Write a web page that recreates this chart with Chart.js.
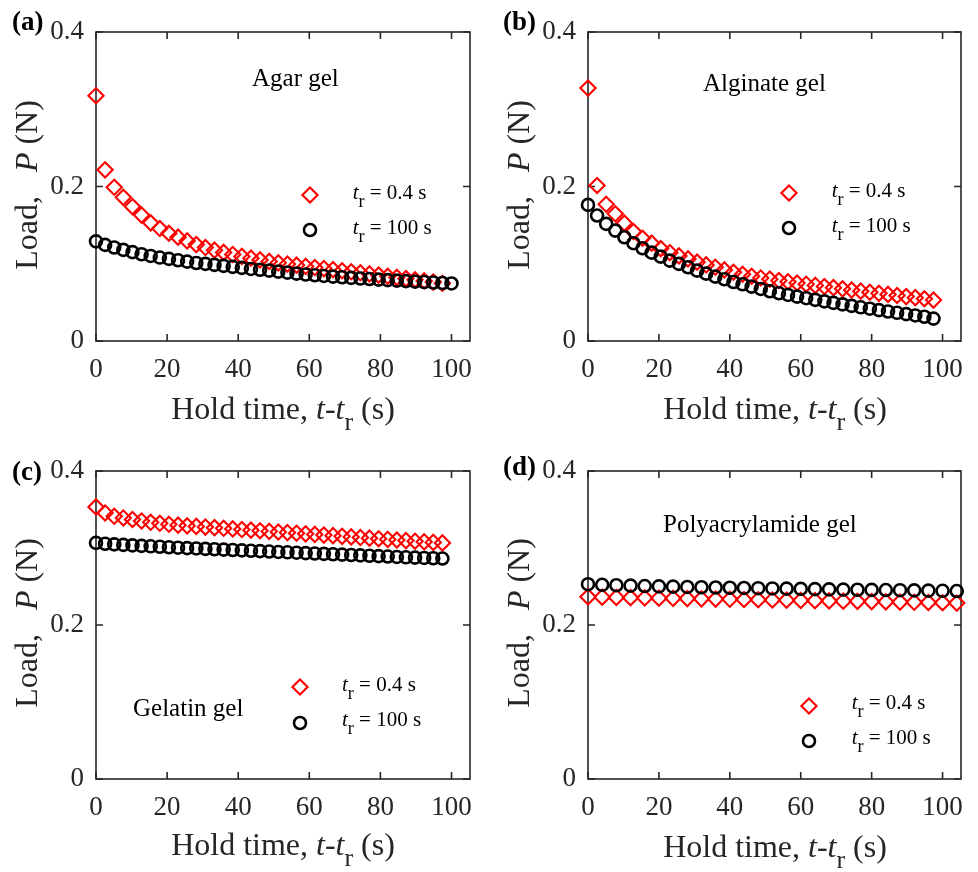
<!DOCTYPE html>
<html><head><meta charset="utf-8">
<script src="https://cdn.jsdelivr.net/npm/chart.js@4.4.1/dist/chart.umd.min.js"></script>
<style>
html,body{margin:0;padding:0;background:#fff;overflow:hidden}
#fig{position:relative;width:978px;height:872px;font-family:"Liberation Serif","Times New Roman",serif;color:#000}
#fig canvas{position:absolute}
.t{position:absolute;white-space:nowrap;line-height:1}
.mk{position:absolute;width:24px;height:24px}
.sb{position:relative;top:11px;font-size:26px}
.ls{position:relative;top:8px;font-size:18px}
</style></head><body><div id="fig"></div>
<script>
// ---------------- data ----------------
const holdTime40 = [0, 2.56, 5.13, 7.69, 10.26, 12.82, 15.38, 17.95, 20.51, 23.08, 25.64, 28.21, 30.77, 33.33, 35.90, 38.46, 41.03, 43.59, 46.15, 48.72, 51.28, 53.85, 56.41, 58.97, 61.54, 64.10, 66.67, 69.23, 71.79, 74.36, 76.92, 79.49, 82.05, 84.62, 87.18, 89.74, 92.31, 94.87, 97.44, 100];
const holdTime39 = [0, 2.56, 5.13, 7.69, 10.26, 12.82, 15.38, 17.95, 20.51, 23.08, 25.64, 28.21, 30.77, 33.33, 35.90, 38.46, 41.03, 43.59, 46.15, 48.72, 51.28, 53.85, 56.41, 58.97, 61.54, 64.10, 66.67, 69.23, 71.79, 74.36, 76.92, 79.49, 82.05, 84.62, 87.18, 89.74, 92.31, 94.87, 97.44];
const holdTime27 = [0, 4, 8, 12, 16, 20, 24, 28, 32, 36, 40, 44, 48, 52, 56, 60, 64, 68, 72, 76, 80, 84, 88, 92, 96, 100, 104];

const agarFast = [0.3175, 0.2216, 0.199, 0.186, 0.174, 0.163, 0.153, 0.1456, 0.1395, 0.1344, 0.1296, 0.1248, 0.1210, 0.1176, 0.1147, 0.1120, 0.1095, 0.1072, 0.1050, 0.1030, 0.1012, 0.0996, 0.0982, 0.0966, 0.0951, 0.0937, 0.0923, 0.0909, 0.0896, 0.0883, 0.0868, 0.0853, 0.0838, 0.0823, 0.0808, 0.0793, 0.0778, 0.0763, 0.0748];
const agarSlow = [0.129, 0.1244, 0.121, 0.118, 0.115, 0.1123, 0.1101, 0.108, 0.1063, 0.1045, 0.1028, 0.101, 0.0998, 0.0985, 0.0972, 0.0959, 0.0946, 0.0933, 0.0922, 0.0911, 0.0898, 0.0885, 0.0872, 0.0861, 0.0851, 0.0842, 0.0833, 0.0825, 0.0817, 0.0809, 0.0802, 0.0795, 0.0788, 0.0781, 0.0775, 0.0769, 0.0763, 0.0757, 0.0751, 0.0745];

const alginateFast = [0.3274, 0.2013, 0.177, 0.1646, 0.1525, 0.1417, 0.133, 0.1266, 0.1196, 0.1144, 0.1101, 0.1063, 0.102, 0.0985, 0.0955, 0.092, 0.089, 0.0864, 0.0838, 0.0816, 0.0800, 0.0783, 0.0767, 0.0751, 0.0735, 0.0720, 0.0705, 0.0690, 0.0675, 0.0660, 0.0645, 0.0631, 0.0617, 0.0603, 0.0589, 0.0575, 0.0561, 0.0547, 0.0530];
const alginateSlow = [0.1762, 0.1624, 0.1516, 0.1429, 0.1343, 0.1266, 0.1201, 0.1144, 0.1092, 0.1041, 0.0998, 0.0955, 0.0911, 0.0872, 0.0833, 0.0799, 0.0764, 0.0735, 0.0704, 0.0674, 0.0644, 0.0618, 0.0596, 0.0575, 0.0554, 0.0533, 0.0513, 0.0493, 0.0474, 0.0455, 0.0436, 0.0418, 0.0400, 0.0382, 0.0365, 0.0348, 0.0331, 0.0314, 0.0290];

const gelatinFast = [0.3533, 0.3455, 0.3412, 0.3390, 0.3370, 0.3351, 0.3334, 0.3321, 0.3308, 0.3296, 0.3288, 0.3280, 0.3272, 0.3264, 0.3256, 0.3248, 0.3240, 0.3232, 0.3224, 0.3216, 0.3208, 0.3200, 0.3192, 0.3184, 0.3176, 0.3168, 0.3160, 0.3152, 0.3144, 0.3136, 0.3128, 0.3120, 0.3112, 0.3104, 0.3096, 0.3088, 0.3080, 0.3073, 0.3066];
const gelatinSlow = [0.3066, 0.3055, 0.3047, 0.3040, 0.3034, 0.3028, 0.3022, 0.3016, 0.3010, 0.3004, 0.2999, 0.2994, 0.2989, 0.2984, 0.2979, 0.2974, 0.2969, 0.2964, 0.2959, 0.2954, 0.2949, 0.2944, 0.2939, 0.2934, 0.2929, 0.2924, 0.2919, 0.2914, 0.2909, 0.2904, 0.2899, 0.2894, 0.2889, 0.2884, 0.2879, 0.2875, 0.2871, 0.2867, 0.2863];

const pamFast = [0.2366, 0.2362, 0.2358, 0.2355, 0.2352, 0.2349, 0.2346, 0.2343, 0.2340, 0.2337, 0.2334, 0.2331, 0.2328, 0.2325, 0.2322, 0.2319, 0.2316, 0.2313, 0.2310, 0.2307, 0.2304, 0.2301, 0.2298, 0.2295, 0.2292, 0.2289, 0.2285];
const pamSlow = [0.2530, 0.2522, 0.2516, 0.2511, 0.2506, 0.2502, 0.2498, 0.2494, 0.2490, 0.2487, 0.2484, 0.2481, 0.2478, 0.2475, 0.2472, 0.2469, 0.2466, 0.2463, 0.2460, 0.2458, 0.2456, 0.2454, 0.2452, 0.2450, 0.2447, 0.2444, 0.2441];

const xTickValues = [0, 20, 40, 60, 80, 100];
const xTickLabels = ['0', '20', '40', '60', '80', '100'];
const yTickValues = [0, 0.2, 0.4];
const yTickLabels = ['0', '0.2', '0.4'];
const panelLetters = ['(a)', '(b)', '(c)', '(d)'];
const gelNames = ['Agar gel', 'Alginate gel', 'Gelatin gel', 'Polyacrylamide gel'];
const legendValues = ['0.4 s', '100 s'];
const xTitle = 'Hold time, <i>t</i>-<i>t</i><span class="sb">r</span> (s)';
const yTitle = 'Load,&nbsp;&nbsp;&nbsp;<i>P</i> (N)';

// ---------------- layout ----------------
const X_MAX = 105.2;
const FONT = '"Liberation Serif","Times New Roman",serif';
const AXIS_COLOR = '#262626';
const DIAMOND_R = 7.6, CIRCLE_R = 6;

const panels = [
  {fastT: holdTime39, fastV: agarFast, slowT: holdTime40, slowV: agarSlow,
   cx: 0, cy: 0, padTop: 32, padRight: 16, label: [12, 30.6], name: [252, 86],
   leg: {mx: 310, my: [195, 230], tx: 352.7, tb: [200, 235]}, xt: [283, 418.3], yt: [26, 185]},
  {fastT: holdTime39, fastV: alginateFast, slowT: holdTime39, slowV: alginateSlow,
   cx: 492, cy: 0, padTop: 32, padRight: 17, label: [503, 30.6], name: [703, 90.7],
   leg: {mx: 789, my: [193, 228], tx: 831.7, tb: [198, 233]}, xt: [775, 418.3], yt: [518, 185]},
  {fastT: holdTime39, fastV: gelatinFast, slowT: holdTime39, slowV: gelatinSlow,
   cx: 0, cy: 438, padTop: 33, padRight: 16, label: [12, 480.6], name: [133, 716],
   leg: {mx: 300, my: [687, 722.7], tx: 342, tb: [691.7, 726.7]}, xt: [283, 855], yt: [26, 623]},
  {fastT: holdTime27, fastV: pamFast, slowT: holdTime27, slowV: pamSlow,
   cx: 492, cy: 438, padTop: 33, padRight: 17, label: [503, 475.6], name: [663, 531.7],
   leg: {mx: 809, my: [706, 741], tx: 851.7, tb: [710, 745]}, xt: [775, 856.7], yt: [518, 623]}
];

const fig = document.getElementById('fig');
const ASC = 0.8375; // baseline offset (em) for line-height:1 in Liberation Serif

function addText(html, x, baseline, size, extra) {
  const d = document.createElement('div');
  d.className = 't';
  d.innerHTML = html;
  d.style.fontSize = size + 'px';
  d.style.left = x + 'px';
  d.style.top = (baseline - ASC * size) + 'px';
  if (extra) Object.assign(d.style, extra);
  fig.appendChild(d);
  return d;
}

function addMarker(kind, cx, cy) {
  const ns = 'http://www.w3.org/2000/svg';
  const s = document.createElementNS(ns, 'svg');
  s.setAttribute('class', 'mk');
  s.setAttribute('width', '24'); s.setAttribute('height', '24');
  s.style.left = (cx - 12) + 'px'; s.style.top = (cy - 12) + 'px';
  let el;
  if (kind === 'diamond') {
    el = document.createElementNS(ns, 'polygon');
    const r = DIAMOND_R;
    el.setAttribute('points', `12,${12 - r} ${12 + r},12 12,${12 + r} ${12 - r},12`);
    el.setAttribute('stroke', '#ff0000'); el.setAttribute('stroke-width', '2.1');
  } else {
    el = document.createElementNS(ns, 'circle');
    el.setAttribute('cx', '12'); el.setAttribute('cy', '12'); el.setAttribute('r', String(CIRCLE_R));
    el.setAttribute('stroke', '#000'); el.setAttribute('stroke-width', '2.6');
  }
  el.setAttribute('fill', 'none');
  s.appendChild(el);
  fig.appendChild(s);
}

const boxPlugin = {
  id: 'boxTicks',
  beforeDatasetsDraw(chart) {
    const {ctx, chartArea: a, scales: {x, y}} = chart;
    ctx.save();
    ctx.strokeStyle = AXIS_COLOR;
    ctx.lineWidth = 1.6;
    ctx.strokeRect(a.left, a.top, a.right - a.left, a.bottom - a.top);
    const L = 7;
    ctx.beginPath();
    x.ticks.forEach(t => {
      const px = x.getPixelForValue(t.value);
      ctx.moveTo(px, a.bottom); ctx.lineTo(px, a.bottom - L);
      ctx.moveTo(px, a.top); ctx.lineTo(px, a.top + L);
    });
    y.ticks.forEach(t => {
      const py = y.getPixelForValue(t.value);
      ctx.moveTo(a.left, py); ctx.lineTo(a.left + L, py);
      ctx.moveTo(a.right, py); ctx.lineTo(a.right - L, py);
    });
    ctx.stroke();
    ctx.restore();
  }
};

function xy(ts, vs) { return ts.map((t, i) => ({x: t, y: vs[i]})); }

panels.forEach((p, k) => {
  const c = document.createElement('canvas');
  c.width = 486; c.height = 434;
  c.style.left = p.cx + 'px'; c.style.top = p.cy + 'px';
  fig.appendChild(c);
  new Chart(c, {
    type: 'scatter',
    data: {datasets: [
      {label: 't_r = ' + legendValues[1], data: xy(p.slowT, p.slowV), pointStyle: 'circle', pointRadius: CIRCLE_R,
       pointBorderColor: '#000000', pointBackgroundColor: 'rgba(0,0,0,0)', pointBorderWidth: 2.6, clip: false},
      {label: 't_r = ' + legendValues[0], data: xy(p.fastT, p.fastV), pointStyle: 'rectRot', pointRadius: DIAMOND_R,
       pointBorderColor: '#ff0000', pointBackgroundColor: 'rgba(0,0,0,0)', pointBorderWidth: 2.1, clip: false}
    ]},
    options: {
      responsive: false, animation: false, devicePixelRatio: 1,
      layout: {padding: {top: p.padTop, right: p.padRight, left: 0, bottom: 0}},
      plugins: {legend: {display: false}, tooltip: {enabled: false}},
      events: [],
      scales: {
        x: {type: 'linear', min: 0, max: X_MAX,
            afterBuildTicks: s => { s.ticks = xTickValues.map(v => ({value: v})); },
            afterFit: s => { s.height = 93; },
            ticks: {font: {family: FONT, size: 27}, color: AXIS_COLOR, padding: 13, maxRotation: 0, autoSkip: false,
                    callback: (v, i) => xTickLabels[i]},
            grid: {display: false, drawTicks: false}, border: {display: false}},
        y: {type: 'linear', min: 0, max: 0.4,
            afterBuildTicks: s => { s.ticks = yTickValues.map(v => ({value: v})); },
            afterFit: s => { s.width = 96; },
            ticks: {font: {family: FONT, size: 27}, color: AXIS_COLOR, padding: 12, autoSkip: false,
                    callback: (v, i) => yTickLabels[i]},
            grid: {display: false, drawTicks: false}, border: {display: false}}
      }
    },
    plugins: [boxPlugin]
  });

  // panel letter
  addText('<b>' + panelLetters[k] + '</b>', p.label[0], p.label[1], 27);
  // gel name
  addText(gelNames[k], p.name[0], p.name[1], 25);
  // legend
  addMarker('diamond', p.leg.mx, p.leg.my[0]);
  addMarker('circle', p.leg.mx, p.leg.my[1]);
  legendValues.forEach((v, j) => {
    addText('<i>t</i><span class="ls">r</span> = ' + v, p.leg.tx, p.leg.tb[j], 21);
  });
  // x title
  addText(xTitle, p.xt[0], p.xt[1], 32, {transform: 'translateX(-50%)', color: AXIS_COLOR});
  // y title
  const yd = addText(yTitle, p.yt[0], 0, 32, {color: AXIS_COLOR});
  yd.style.top = p.yt[1] + 'px';
  yd.style.transform = 'translate(-50%,-50%) rotate(-90deg)';
});
</script>
</body></html>
